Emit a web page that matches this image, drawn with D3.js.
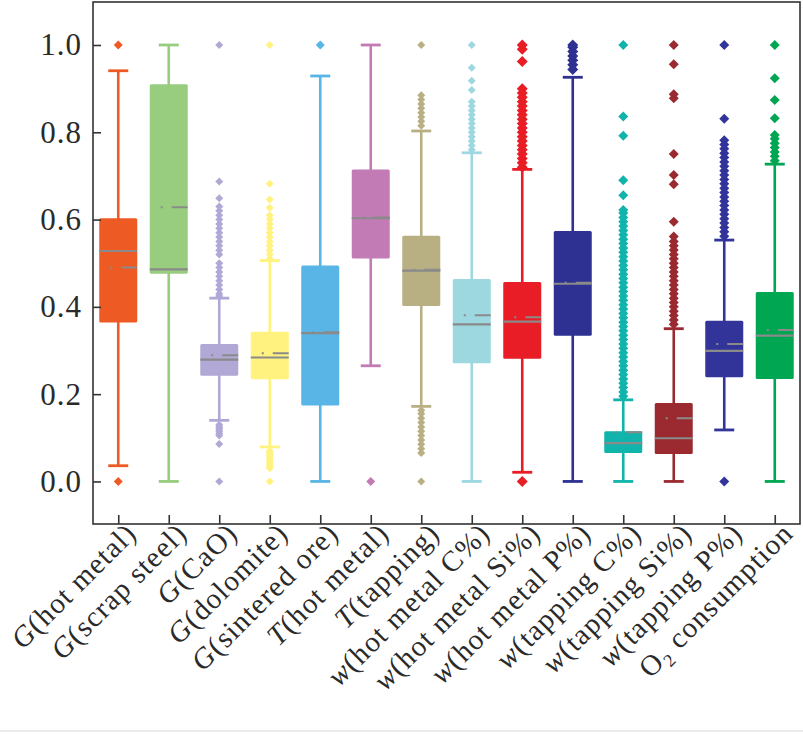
<!DOCTYPE html>
<html>
<head>
<meta charset="utf-8">
<script src="https://cdn.jsdelivr.net/npm/d3@7"></script>
<style>
  body { margin: 0; background: #fff; }
  svg { display: block; }
</style>
</head>
<body>
<div id="chart"></div>
<script>
const categories = [
  'G(hot metal)', 'G(scrap steel)', 'G(CaO)', 'G(dolomite)', 'G(sintered ore)',
  'T(hot metal)', 'T(tapping)', 'w(hot metal C%)', 'w(hot metal Si%)', 'w(hot metal P%)',
  'w(tapping C%)', 'w(tapping Si%)', 'w(tapping P%)', 'O2 consumption'
];
const whiskerLow  = [0.036, 0.0, 0.140, 0.079, 0.0, 0.265, 0.172, 0.0, 0.021, 0.0, 0.0, 0.0, 0.118, 0.0];
const q1          = [0.364, 0.476, 0.242, 0.234, 0.174, 0.511, 0.402, 0.271, 0.281, 0.334, 0.065, 0.063, 0.239, 0.235];
const medians     = [0.528, 0.486, 0.279, 0.284, 0.340, 0.603, 0.483, 0.360, 0.366, 0.453, 0.088, 0.099, 0.299, 0.334];
const q3          = [0.603, 0.910, 0.315, 0.343, 0.495, 0.715, 0.563, 0.464, 0.457, 0.574, 0.115, 0.180, 0.368, 0.434];
const whiskerHigh = [0.941, 1.0, 0.420, 0.506, 0.929, 1.0, 0.803, 0.753, 0.715, 0.926, 0.187, 0.350, 0.553, 0.727];
const means       = [0.490, 0.628, 0.289, 0.294, 0.342, 0.605, 0.485, 0.381, 0.376, 0.455, 0.113, 0.145, 0.315, 0.347];
const outliers = [
  [0, 1],
  [],
  [0, 0.086, 0.105, 0.11, 0.115, 0.12, 0.125, 0.13, 0.425, 0.43, 0.44, 0.45, 0.46, 0.47, 0.48, 0.49, 0.50,
   0.52, 0.53, 0.54, 0.55, 0.56, 0.57, 0.58, 0.59, 0.60, 0.61, 0.62, 0.63, 0.649, 0.687, 1],
  [0, 0.03, 0.035, 0.04, 0.045, 0.05, 0.055, 0.06, 0.065, 0.07, 0.51, 0.52, 0.53, 0.54, 0.55, 0.56, 0.57,
   0.58, 0.59, 0.60, 0.61, 0.627, 0.646, 0.682, 1],
  [1],
  [0],
  [0, 0.065, 0.075, 0.085, 0.095, 0.105, 0.115, 0.125, 0.135, 0.145, 0.155, 0.163, 0.815, 0.825, 0.835,
   0.845, 0.855, 0.865, 0.875, 0.885, 1],
  [0.76, 0.77, 0.78, 0.79, 0.80, 0.81, 0.82, 0.83, 0.84, 0.85, 0.86, 0.87, 0.897, 0.918, 0.948, 1],
  [0, 0.72, 0.73, 0.74, 0.75, 0.76, 0.77, 0.78, 0.79, 0.80, 0.81, 0.82, 0.83, 0.84, 0.85, 0.86, 0.87, 0.88,
   0.89, 0.90, 0.962, 0.99, 1],
  [0.944, 0.955, 0.965, 0.975, 0.985, 0.995, 1],
  [0.195, 0.205, 0.215, 0.225, 0.235, 0.245, 0.255, 0.265, 0.275, 0.285, 0.295, 0.305, 0.315, 0.325, 0.335,
   0.345, 0.355, 0.365, 0.375, 0.385, 0.395, 0.405, 0.415, 0.425, 0.435, 0.445, 0.455, 0.465, 0.475, 0.485,
   0.495, 0.505, 0.515, 0.525, 0.535, 0.545, 0.555, 0.565, 0.575, 0.585, 0.595, 0.605, 0.615, 0.622,
   0.656, 0.69, 0.792, 0.836, 1],
  [0.36, 0.37, 0.38, 0.39, 0.40, 0.41, 0.42, 0.43, 0.44, 0.45, 0.46, 0.47, 0.48, 0.49, 0.50, 0.51, 0.52,
   0.53, 0.54, 0.55, 0.561, 0.595, 0.681, 0.702, 0.75, 0.878, 0.887, 0.956, 1],
  [0, 0.562, 0.572, 0.582, 0.592, 0.602, 0.612, 0.622, 0.632, 0.642, 0.652, 0.662, 0.672, 0.682, 0.692,
   0.702, 0.712, 0.722, 0.732, 0.742, 0.752, 0.762, 0.772, 0.782, 0.831, 1],
  [0.735, 0.745, 0.755, 0.765, 0.775, 0.785, 0.794, 0.832, 0.874, 0.924, 1]
];
const yTicks = [0, 0.2, 0.4, 0.6, 0.8, 1.0];

const colors = ['#EE5A24', '#98CC7E', '#B1A8D6', '#FFF27E', '#58B5E5', '#C27BB5', '#B8B083',
  '#9DD8E1', '#E91D25', '#2E3192', '#10B4AA', '#9A2A30', '#32349A', '#00A651'];
const dotSize = [9, 9, 8, 8, 9, 9, 8, 8, 11, 11, 10, 10, 10, 10];

const W = 803, H = 734;
const plot = { left: 93, right: 800, top: 2, bottom: 524 };
const serif = '"Liberation Serif", "Times New Roman", Times, serif';

const svg = d3.select('#chart')
  .append('svg')
  .attr('width', W)
  .attr('height', H);

const x = d3.scalePoint()
  .domain(categories)
  .range([plot.left, plot.right])
  .padding(0.5);

const y = d3.scaleLinear()
  .domain([-0.0975, 1.0985])
  .range([plot.bottom, plot.top]);

const boxW = 38, capW = 20;

// boxes
const g = svg.append('g');
categories.forEach((c, i) => {
  const cx = x(c);
  const col = colors[i];
  const b = g.append('g');

  b.append('line')
    .attr('x1', cx).attr('x2', cx)
    .attr('y1', y(whiskerLow[i])).attr('y2', y(whiskerHigh[i]))
    .attr('stroke', col).attr('stroke-width', 2.6);
  [whiskerLow[i], whiskerHigh[i]].forEach((v) => {
    b.append('line')
      .attr('x1', cx - capW / 2).attr('x2', cx + capW / 2)
      .attr('y1', y(v)).attr('y2', y(v))
      .attr('stroke', col).attr('stroke-width', 2.8);
  });

  b.append('rect')
    .attr('x', cx - boxW / 2)
    .attr('y', y(q3[i]))
    .attr('width', boxW)
    .attr('height', y(q1[i]) - y(q3[i]))
    .attr('rx', 1.5)
    .attr('fill', col);

  b.append('line')
    .attr('x1', cx - boxW / 2).attr('x2', cx + boxW / 2)
    .attr('y1', y(medians[i])).attr('y2', y(medians[i]))
    .attr('stroke', '#8a8a8a').attr('stroke-width', 2.2);

  b.append('line')
    .attr('x1', cx - boxW / 2).attr('x2', cx + boxW / 2)
    .attr('y1', y(means[i])).attr('y2', y(means[i]))
    .attr('stroke', '#8a8a8a').attr('stroke-width', 2)
    .attr('stroke-dasharray', '0,11,2,9,16');

  b.selectAll('path.out')
    .data(outliers[i])
    .enter()
    .append('path')
    .attr('class', 'out')
    .attr('d', d3.symbol().type(d3.symbolSquare).size(dotSize[i] * dotSize[i] / 2))
    .attr('transform', (d) => `translate(${cx},${y(d)}) rotate(45)`)
    .attr('fill', col);
});

// frame
svg.append('rect')
  .attr('x', plot.left)
  .attr('y', plot.top)
  .attr('width', plot.right - plot.left)
  .attr('height', plot.bottom - plot.top)
  .attr('fill', 'none')
  .attr('stroke', '#333')
  .attr('stroke-width', 1.6);

// faint page edge as in the scan
svg.append('line')
  .attr('x1', 0).attr('x2', W)
  .attr('y1', 731).attr('y2', 731)
  .attr('stroke', '#e4e4e4').attr('stroke-width', 1.5);

// y axis
const yAxis = svg.append('g')
  .attr('transform', `translate(${plot.left},0)`)
  .call(d3.axisLeft(y).tickValues(yTicks).tickSize(-8).tickPadding(11).tickFormat(d3.format('.1f')));
yAxis.select('.domain').remove();
yAxis.selectAll('.tick line').attr('stroke', '#333').attr('stroke-width', 1.6);
yAxis.selectAll('.tick text')
  .attr('fill', '#2a2a2a')
  .style('font-family', serif)
  .style('font-size', '31px')
  .style('letter-spacing', '1px');

// x axis
const xAxis = svg.append('g')
  .attr('transform', `translate(0,${plot.bottom})`)
  .call(d3.axisBottom(x).tickSize(-9).tickFormat(''));
xAxis.select('.domain').remove();
xAxis.selectAll('.tick line').attr('stroke', '#333').attr('stroke-width', 1.6);
xAxis.selectAll('.tick text').remove();

const labels = svg.append('g')
  .style('font-family', serif)
  .style('font-size', '29px')
  .style('letter-spacing', '1.2px')
  .attr('fill', '#2a2a2a');

categories.forEach((c) => {
  const t = labels.append('text')
    .attr('text-anchor', 'end')
    .attr('transform', `translate(${x(c) + 20},${plot.bottom + 11}) rotate(-45)`);
  if (c.startsWith('O2')) {
    t.append('tspan').text('O');
    t.append('tspan').attr('font-size', '18px').attr('dy', 6).text('2');
    t.append('tspan').attr('dy', -6).text(c.slice(2));
  } else {
    t.append('tspan').style('font-style', 'italic').text(c[0]);
    t.append('tspan').text(c.slice(1));
  }
});
</script>
</body>
</html>
